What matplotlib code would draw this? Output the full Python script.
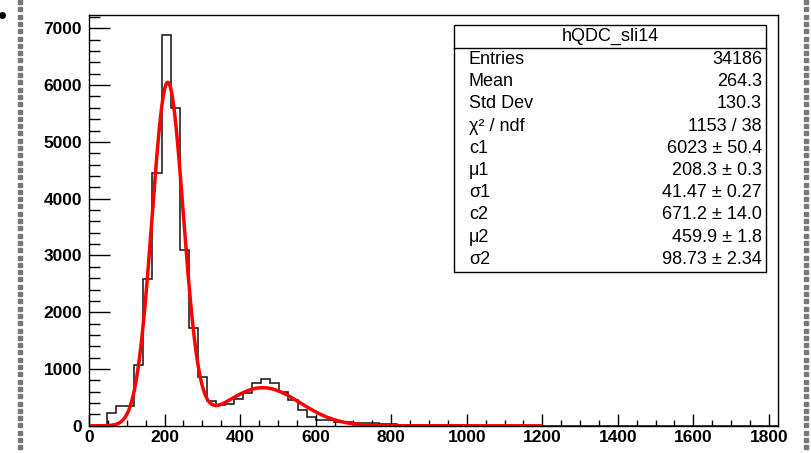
import numpy as np
import matplotlib
matplotlib.use("Agg")
from matplotlib import pyplot as plt
from matplotlib.patches import Rectangle
from matplotlib.lines import Line2D
from matplotlib.ticker import MultipleLocator

plt.rcParams['font.family'] = ['Liberation Sans', 'DejaVu Sans']

# QDC histogram, 76 bins of width 24 from 0 to 1824
bin_width = 24
counts = [0, 5, 220, 350, 355, 1065, 2580, 4445, 6890, 5600,
          3100, 1720, 865, 440, 360, 385, 470, 580, 750, 820,
          750, 600, 454, 278, 150, 110, 95, 72, 65, 55,
          50, 45, 40, 25, 22, 18, 15, 12, 10, 8,
          6, 5, 4, 3, 3, 2, 2, 1, 1, 1,
          0, 0, 0, 0, 0, 0, 0, 0, 0, 0,
          0, 0, 0, 0, 0, 0, 0, 0, 0, 0,
          0, 0, 0, 0, 0, 0]
edges = np.arange(len(counts) + 1) * bin_width

# double gaussian fit parameters
c1, mu1, sigma1 = 6023, 208.3, 41.47
c2, mu2, sigma2 = 671.2, 459.9, 98.73
fit_range = (0, 1200)

stat_title = "hQDC_sli14"
stat_names = ["Entries", "Mean", "Std Dev", "χ² / ndf", "c1", "μ1", "σ1", "c2", "μ2", "σ2"]
stat_values = ["34186", "264.3", "130.3", "1153 / 38", "6023 ± 50.4", "208.3 ± 0.3",
               "41.47 ± 0.27", "671.2 ± 14.0", "459.9 ± 1.8", "98.73 ± 2.34"]


def gaus2(x):
    return (c1 * np.exp(-0.5 * ((x - mu1) / sigma1) ** 2)
            + c2 * np.exp(-0.5 * ((x - mu2) / sigma2) ** 2))


W, H = 812, 453
fig = plt.figure(figsize=(W / 100, H / 100), dpi=100)
fig.patch.set_facecolor('white')

ax = fig.add_axes([89 / W, 1 - 425.8 / H, (778 - 89) / W, (425.8 - 15) / H])
ax.stairs(counts, edges, color='#111111', lw=1.1)
xf = np.linspace(*fit_range, 1200)
ax.plot(xf, gaus2(xf), color='red', lw=2.5, solid_capstyle='butt')

ax.set_xlim(0, edges[-1])
ax.set_ylim(0, 1.05 * max(counts))
ax.xaxis.set_major_locator(MultipleLocator(200))
ax.xaxis.set_minor_locator(MultipleLocator(50))
ax.yaxis.set_major_locator(MultipleLocator(1000))
ax.yaxis.set_minor_locator(MultipleLocator(200))
ax.tick_params(axis='both', which='both', direction='in', width=1.0, colors='black',
               top=False, right=False)
ax.tick_params(axis='y', which='major', length=15, pad=5)
ax.tick_params(axis='y', which='minor', length=8)
ax.tick_params(axis='x', which='major', length=8.5, pad=3)
ax.tick_params(axis='x', which='minor', length=4)
for lab in ax.get_xticklabels() + ax.get_yticklabels():
    lab.set_fontsize(12.5)
    lab.set_fontweight('bold')
for s in ax.spines.values():
    s.set_linewidth(1.0)

# overlay in pixel coordinates for the stats box and page border
ov = fig.add_axes([0, 0, 1, 1], facecolor='none')
ov.set_xlim(0, W)
ov.set_ylim(H, 0)
ov.axis('off')

ov.add_patch(Rectangle((454, 25), 312, 246.5, fill=False, edgecolor='black', lw=1.0))
ov.add_line(Line2D([454, 766], [47.5, 47.5], color='black', lw=1.0))
ov.text(610, 36.5, stat_title, ha='center', va='center', fontsize=13)
for i, (name, val) in enumerate(zip(stat_names, stat_values)):
    y = 59.5 + i * 22.2
    ov.text(469, y, name, ha='left', va='center', fontsize=13)
    ov.text(762, y, val, ha='right', va='center', fontsize=13)

# dotted page border
yd = np.arange(2, H, 7.3)
ov.plot(np.full_like(yd, 20.5), yd, ls='none', marker='s', ms=3.2, color='#777777')
ov.plot(np.full_like(yd, 806), yd, ls='none', marker='s', ms=3.2, color='#777777')
ov.plot([2], [15], ls='none', marker='o', ms=4, color='black')

fig.savefig('out.png', dpi=100)
